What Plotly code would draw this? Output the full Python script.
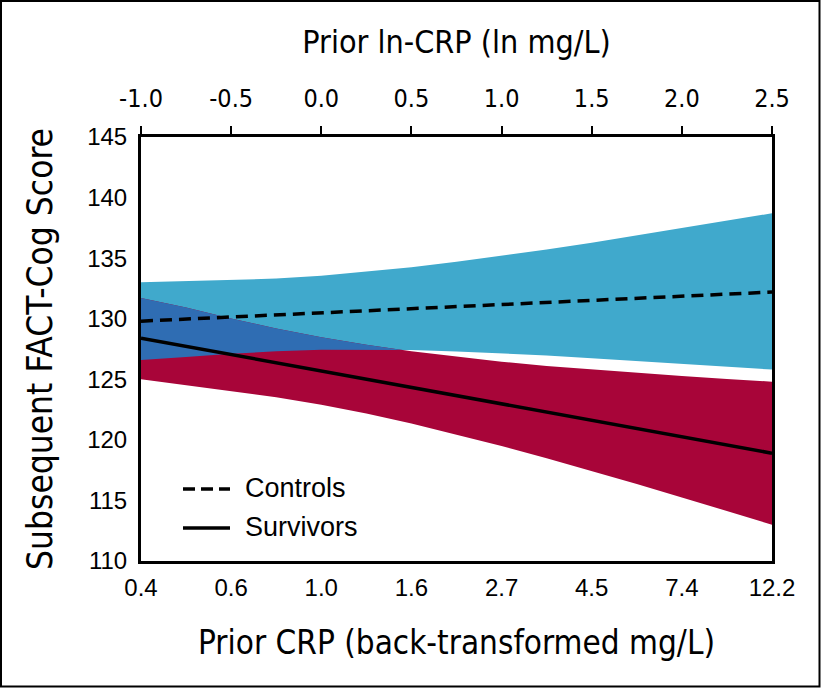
import plotly.graph_objects as go

# ---- data ----
ln_crp = [-1.0, -0.75, -0.5, -0.25, 0.0, 0.25, 0.5, 0.75, 1.0, 1.25, 1.5, 1.75, 2.0, 2.25, 2.5]

controls_mean = [129.8, 129.97, 130.14, 130.31, 130.49, 130.66, 130.83, 131.0, 131.17, 131.34, 131.51, 131.69, 131.86, 132.03, 132.2]
controls_upper = [133.0, 133.11, 133.17, 133.31, 133.55, 133.87, 134.25, 134.70, 135.19, 135.72, 136.28, 136.87, 137.47, 138.08, 138.7]
controls_lower = [126.6, 126.83, 127.11, 127.31, 127.43, 127.45, 127.41, 127.30, 127.15, 126.96, 126.74, 126.51, 126.25, 126.03, 125.8]

survivors_mean = [128.4, 127.72, 127.04, 126.36, 125.69, 125.01, 124.33, 123.65, 122.97, 122.29, 121.62, 120.94, 120.26, 119.58, 118.9]
survivors_upper = [131.7, 130.92, 130.02, 129.20, 128.48, 127.85, 127.31, 126.85, 126.45, 126.10, 125.81, 125.53, 125.27, 125.03, 124.8]
survivors_lower = [125.0, 124.52, 124.06, 123.52, 122.90, 122.17, 121.35, 120.45, 119.49, 118.48, 117.43, 116.35, 115.25, 114.13, 113.0]

top_tickvals = [-1.0, -0.5, 0.0, 0.5, 1.0, 1.5, 2.0, 2.5]
top_ticktext = ["-1.0", "-0.5", "0.0", "0.5", "1.0", "1.5", "2.0", "2.5"]
bottom_ticktext = ["0.4", "0.6", "1.0", "1.6", "2.7", "4.5", "7.4", "12.2"]
y_tickvals = [110, 115, 120, 125, 130, 135, 140, 145]

BLUE = "#40A9CC"
RED = "#A80539"
OVERLAP = "#2F6DB3"

COND = "Liberation Sans Narrow, DejaVu Sans Condensed, Roboto Condensed, Liberation Sans, Arial, sans-serif"
REG = "Liberation Sans, Arial, Helvetica, sans-serif"

# overlap region between the two bands (min of uppers, max of lowers), with crossing point
ov_x, ov_hi, ov_lo = [], [], []
for i in range(len(ln_crp)):
    hi = min(controls_upper[i], survivors_upper[i])
    lo = max(controls_lower[i], survivors_lower[i])
    d = hi - lo
    if d >= 0:
        ov_x.append(ln_crp[i]); ov_hi.append(hi); ov_lo.append(lo)
    if i + 1 < len(ln_crp):
        hi2 = min(controls_upper[i + 1], survivors_upper[i + 1])
        lo2 = max(controls_lower[i + 1], survivors_lower[i + 1])
        d2 = hi2 - lo2
        if d >= 0 > d2:
            t = d / (d - d2)
            xc = ln_crp[i] + t * (ln_crp[i + 1] - ln_crp[i])
            yc = hi + t * (hi2 - hi)
            ov_x.append(xc); ov_hi.append(yc); ov_lo.append(yc)
            break

fig = go.Figure()

# controls band
fig.add_trace(go.Scatter(x=ln_crp, y=controls_lower, mode="lines", line=dict(width=0, color=BLUE),
                         showlegend=False, hoverinfo="skip"))
fig.add_trace(go.Scatter(x=ln_crp, y=controls_upper, mode="lines", line=dict(width=0, color=BLUE),
                         fill="tonexty", fillcolor=BLUE, showlegend=False, hoverinfo="skip"))
# survivors band
fig.add_trace(go.Scatter(x=ln_crp, y=survivors_lower, mode="lines", line=dict(width=0, color=RED),
                         showlegend=False, hoverinfo="skip"))
fig.add_trace(go.Scatter(x=ln_crp, y=survivors_upper, mode="lines", line=dict(width=0, color=RED),
                         fill="tonexty", fillcolor=RED, showlegend=False, hoverinfo="skip"))
# overlap
fig.add_trace(go.Scatter(x=ov_x + ov_x[::-1], y=ov_hi + ov_lo[::-1], mode="lines",
                         line=dict(width=0, color=OVERLAP), fill="toself", fillcolor=OVERLAP,
                         showlegend=False, hoverinfo="skip"))
# mean lines
fig.add_trace(go.Scatter(x=ln_crp, y=controls_mean, mode="lines", name="Controls",
                         line=dict(color="black", width=3.5, dash="12px,7px"), showlegend=False))
fig.add_trace(go.Scatter(x=ln_crp, y=survivors_mean, mode="lines", name="Survivors",
                         line=dict(color="black", width=3.5), showlegend=False))
# dummy trace for top axis
fig.add_trace(go.Scatter(x=[ln_crp[0], ln_crp[-1]], y=[None, None], xaxis="x2", yaxis="y",
                         showlegend=False, hoverinfo="skip"))

L, R, T, B = 141, 49, 137, 127
W, H = 821, 688
pw, ph = W - L - R, H - T - B

def px_x(p):
    return (p - L) / pw

def px_y(p):
    return (H - B - p) / ph

# manual legend
fig.add_shape(type="line", xref="paper", yref="paper", x0=px_x(183), x1=px_x(230),
              y0=px_y(489), y1=px_y(489), line=dict(color="black", width=3.5, dash="12px,6px"))
fig.add_shape(type="line", xref="paper", yref="paper", x0=px_x(183), x1=px_x(230),
              y0=px_y(528), y1=px_y(528), line=dict(color="black", width=3.5))
fig.add_annotation(text="Controls", xref="paper", yref="paper", x=px_x(243), y=px_y(488),
                   xanchor="left", yanchor="middle", showarrow=False,
                   font=dict(family=REG, size=27, color="black"))
fig.add_annotation(text="Survivors", xref="paper", yref="paper", x=px_x(243), y=px_y(527),
                   xanchor="left", yanchor="middle", showarrow=False,
                   font=dict(family=REG, size=27, color="black"))

# outer frame
fig.add_shape(type="rect", xref="paper", yref="paper", x0=px_x(1), x1=px_x(819.5),
              y0=px_y(686.5), y1=px_y(1), line=dict(color="black", width=2), layer="above")

fig.update_layout(
    width=W, height=H,
    margin=dict(l=L, r=R, t=T, b=B),
    paper_bgcolor="white", plot_bgcolor="white",
    showlegend=False,
    xaxis=dict(range=[-1.0, 2.5], tickvals=top_tickvals, ticktext=bottom_ticktext,
               showgrid=False, zeroline=False, showline=True, linecolor="black", linewidth=3,
               ticks="", ticklabelstandoff=3,
               tickfont=dict(family=REG, size=24, color="black"),
               title=dict(text="Prior CRP (back-transformed mg/L)", standoff=32,
                          font=dict(family=COND, size=33, color="black"))),
    xaxis2=dict(range=[-1.0, 2.5], overlaying="x", side="top", tickvals=top_tickvals,
                ticktext=top_ticktext, showgrid=False, zeroline=False, showline=True,
                linecolor="black", linewidth=3, ticks="outside", ticklen=8, tickwidth=2,
                tickcolor="black", ticklabelstandoff=9,
                tickfont=dict(family=COND, size=25, color="black"),
                title=dict(text="Prior ln-CRP (ln mg/L)", standoff=21,
                           font=dict(family=COND, size=32, color="black"))),
    yaxis=dict(range=[110, 145], tickvals=y_tickvals, showgrid=False, zeroline=False,
               showline=True, mirror=True, linecolor="black", linewidth=3, ticks="",
               ticklabelstandoff=6,
               tickfont=dict(family=REG, size=24, color="black"),
               title=dict(text="Subsequent FACT-Cog Score", standoff=24,
                          font=dict(family=COND, size=35, color="black"))),
)

fig.write_html("out.html", config={"displayModeBar": False},
               post_script="document.body.style.margin='0';document.body.style.overflow='hidden';")
